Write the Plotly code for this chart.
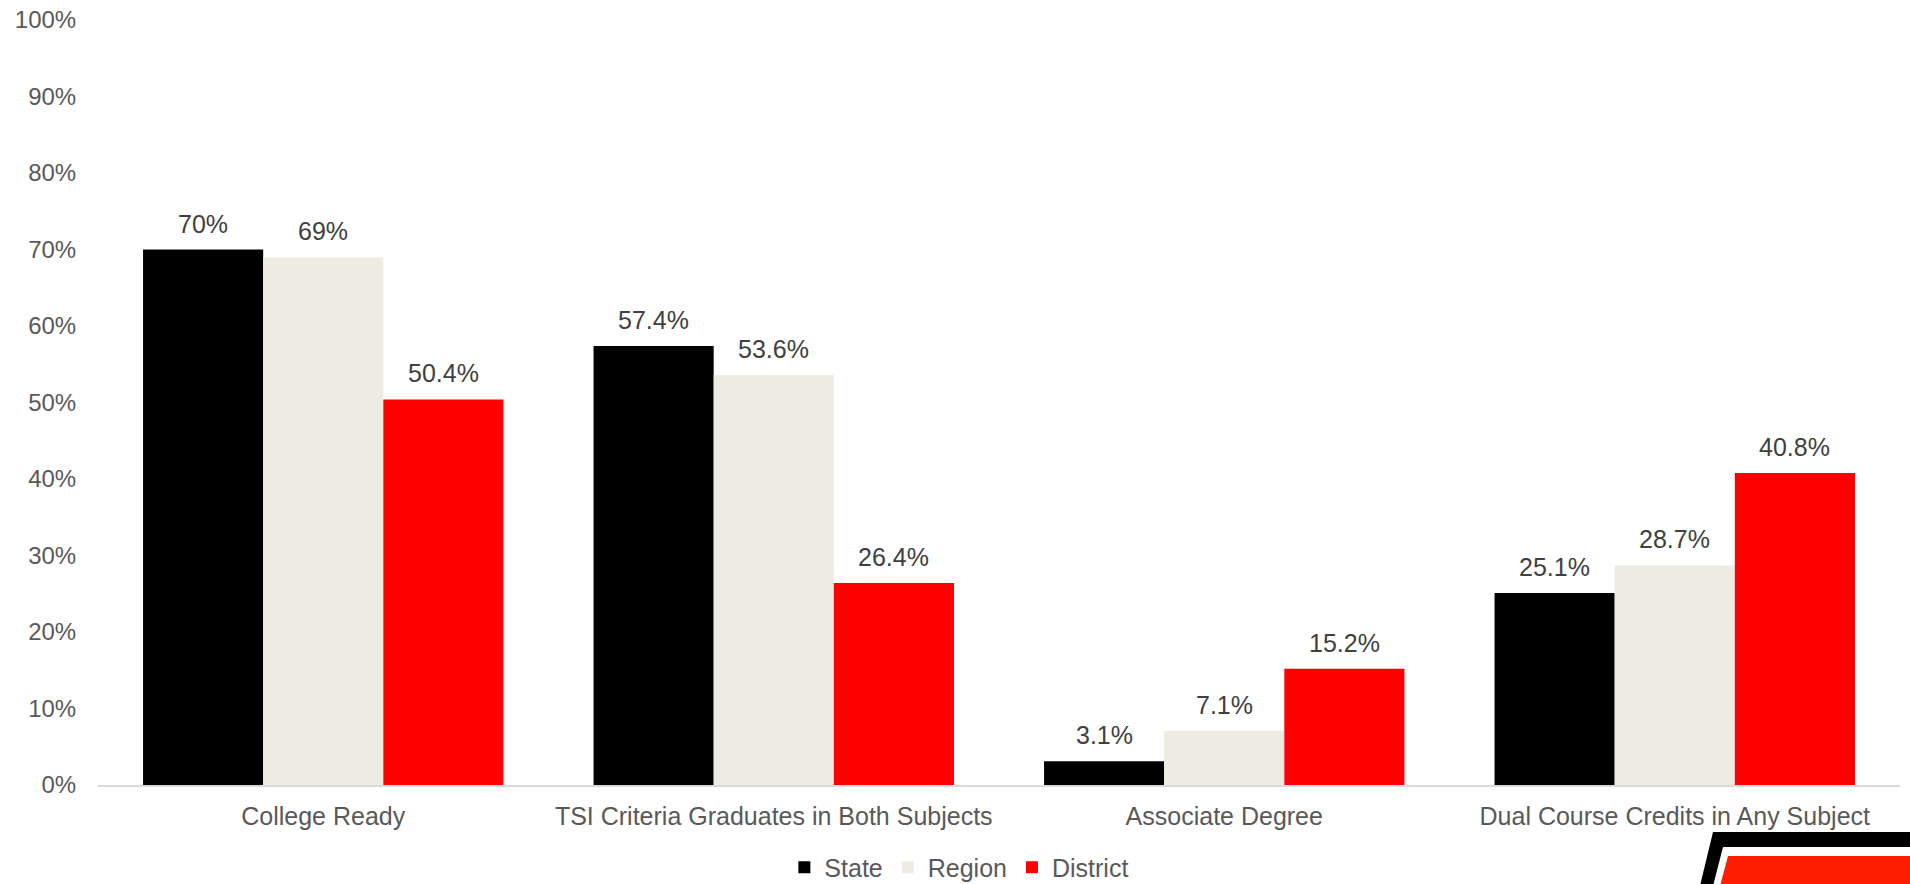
import plotly.graph_objects as go

categories = ["College Ready", "TSI Criteria Graduates in Both Subjects",
              "Associate Degree", "Dual Course Credits in Any Subject"]
state = [70.0, 57.4, 3.1, 25.1]
region = [69.0, 53.6, 7.1, 28.7]
district = [50.4, 26.4, 15.2, 40.8]
series_names = ["State", "Region", "District"]
series_colors = ["#000000", "#EEECE1", "#FF0000"]
y_ticks = [0, 10, 20, 30, 40, 50, 60, 70, 80, 90, 100]

FONT = "Liberation Sans, Arial, sans-serif"

W, H = 1910, 884
L, R, T, B = 98, 10, 20, 99
BARGAP = 0.2
plot_w = W - L - R
bar_px = plot_w / len(categories) * (1 - BARGAP) / len(series_names)


def fmt(v):
    return f"{v:.0f}%" if float(v).is_integer() else f"{v:.1f}%"


fig = go.Figure()
annotations = []
all_series = [state, region, district]
for i, (name, vals, col) in enumerate(zip(series_names, all_series, series_colors)):
    fig.add_trace(go.Bar(
        name=name, x=categories, y=[v / 100 for v in vals],
        marker=dict(color=col, line=dict(width=0)),
        hoverinfo="name+y",
    ))
    for c, v in zip(categories, vals):
        annotations.append(dict(
            x=c, y=v / 100, xref="x", yref="y", text=fmt(v), showarrow=False,
            xshift=(i - 1) * bar_px, yshift=26, yanchor="middle",
            font=dict(family=FONT, size=25, color="#404040"),
        ))


def px(x):
    return (x - L) / plot_w


def py(y):
    return (H - B - y) / (H - T - B)


def poly(pts):
    return "M " + " L ".join(f"{px(a)},{py(b)}" for a, b in pts) + " Z"


shapes = [
    dict(type="path", xref="paper", yref="paper", layer="above",
         path=poly([(1713, 832), (1915, 832), (1915, 890), (1699, 890)]),
         fillcolor="#000000", line=dict(width=0)),
    dict(type="path", xref="paper", yref="paper", layer="above",
         path=poly([(1723, 847), (1915, 847), (1915, 890), (1712, 890)]),
         fillcolor="#FFFFFF", line=dict(width=0)),
    dict(type="path", xref="paper", yref="paper", layer="above",
         path=poly([(1728, 856), (1915, 856), (1915, 890), (1719, 890)]),
         fillcolor="#FF1E00", line=dict(width=0)),
]

fig.update_layout(
    template="none",
    width=W, height=H,
    margin=dict(l=L, r=R, t=T, b=B, autoexpand=False),
    paper_bgcolor="white", plot_bgcolor="white",
    barmode="group", bargap=BARGAP, bargroupgap=0,
    font=dict(family=FONT, color="#595959"),
    showlegend=True,
    legend=dict(orientation="h", x=0.478, xanchor="center", y=-0.108, yanchor="middle",
                font=dict(family=FONT, size=25, color="#595959"),
                itemwidth=30, traceorder="normal", bgcolor="rgba(0,0,0,0)"),
    xaxis=dict(showgrid=False, showline=True, linecolor="#D9D9D9", linewidth=2,
               ticks="outside", ticklen=8, tickcolor="rgba(0,0,0,0)",
               tickfont=dict(family=FONT, size=25, color="#595959"),
               zeroline=False, automargin=False),
    yaxis=dict(range=[0, 1], tickvals=[t / 100 for t in y_ticks],
               ticktext=[f"{t}%" for t in y_ticks],
               showgrid=False, showline=False, zeroline=False,
               ticks="outside", ticklen=16, tickcolor="rgba(0,0,0,0)",
               tickfont=dict(family=FONT, size=24, color="#595959"),
               automargin=False),
    shapes=shapes,
    annotations=annotations,
)

fig.write_html("out.html", config={"displayModeBar": False},
               post_script="document.body.style.margin='0';document.body.style.overflow='hidden';")
